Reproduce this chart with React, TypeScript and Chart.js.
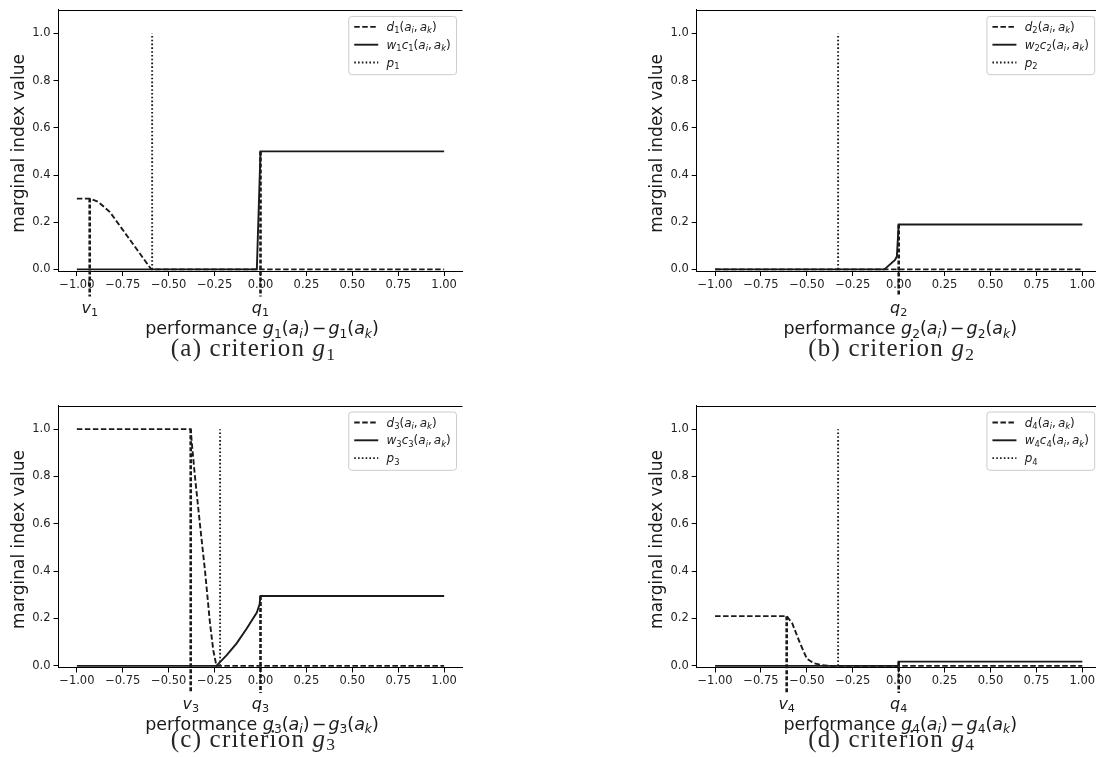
import React, { useEffect, useRef } from 'react';
import { Chart, registerables } from 'chart.js';

Chart.register(...registerables);

// ---------- data ----------
const X_TICKS = [-1, -0.75, -0.5, -0.25, 0, 0.25, 0.5, 0.75, 1];
const Y_TICKS = [0, 0.2, 0.4, 0.6, 0.8, 1.0];
const X_RANGE = [-1.1, 1.1];
const Y_RANGE = [-0.007, 1.1];

// criterion g1
const D1_X = [-1, -0.93, -0.884, -0.82, -0.595, 1];
const D1_Y = [0.3, 0.3, 0.286, 0.243, 0, 0];
const WC1_X = [-1, -0.02, 0, 1];
const WC1_Y = [0, 0, 0.5, 0.5];
// criterion g2
const D2_X = [-1, 1];
const D2_Y = [0, 0];
const WC2_X = [-1, -0.078, -0.02, -0.01, 0, 1];
const WC2_Y = [0, 0, 0.04, 0.055, 0.19, 0.19];
// criterion g3
const D3_X = [-1, -0.38, -0.375, -0.357, -0.33, -0.302, -0.275, -0.257, -0.24, 1];
const D3_Y = [1, 1, 0.95, 0.8, 0.6, 0.4, 0.18, 0.065, 0, 0];
const WC3_X = [-1, -0.24, -0.184, -0.13, -0.075, -0.02, -0.005, 0, 1];
const WC3_Y = [0, 0, 0.045, 0.095, 0.158, 0.225, 0.26, 0.295, 0.295];
// criterion g4
const D4_X = [-1, -0.61, -0.58, -0.537, -0.5, -0.465, -0.42, -0.38, 1];
const D4_Y = [0.21, 0.21, 0.18, 0.095, 0.03, 0.012, 0.003, 0, 0];
const WC4_X = [-1, 0, 0, 1];
const WC4_Y = [0, 0, 0.018, 0.018];

const D_X = [D1_X, D2_X, D3_X, D4_X];
const D_Y = [D1_Y, D2_Y, D3_Y, D4_Y];
const WC_X = [WC1_X, WC2_X, WC3_X, WC4_X];
const WC_Y = [WC1_Y, WC2_Y, WC3_Y, WC4_Y];

const P_VALUES = [-0.59, -0.33, -0.22, -0.33];
const P_TOP = 1.0;
const V_VALUES: (number | null)[] = [-0.93, null, -0.38, -0.61];
const V_TOPS: (number | null)[] = [0.3, null, 1.0, 0.21];
const Q_VALUES = [0, 0, 0, 0];
const Q_TOPS = [0.5, 0.19, 0.295, 0.018];
const MARK_BOTTOM = -0.115;
const CAPTION_LETTERS = ['a', 'b', 'c', 'd'];
const Y_TITLE = 'marginal index value';

// ---------- layout ----------
const PANELS = [
  { left: 0, top: 0, w: 472, h: 390, area: { l: 58.5, t: 9, r: 462.5, b: 271 }, markY: 313, xlabY: 334, capY: 356 },
  { left: 638, top: 0, w: 472, h: 390, area: { l: 58.7, t: 9, r: 462.7, b: 271 }, markY: 313, xlabY: 334, capY: 356 },
  { left: 0, top: 390, w: 472, h: 367, area: { l: 58.5, t: 15.5, r: 462.5, b: 277.5 }, markY: 318.5, xlabY: 339.5, capY: 356.5 },
  { left: 638, top: 390, w: 472, h: 367, area: { l: 58.7, t: 15.5, r: 462.7, b: 277.5 }, markY: 318.5, xlabY: 339.5, capY: 356.5 },
];

const SANS = '"DejaVu Sans"';
const SERIF = '"Liberation Serif"';
const INK = '#1a1a1a';
const LW = 1.9;
const DASH = [5.5, 2.5];
const DOT = [1.6, 2.2];
const MARK_DASH = [4, 2];
const MARK_W = 2.6;

type Seg = { t: string; it?: boolean; sub?: boolean; gap?: number };
type RichOpt = { size: number; fam: string; color?: string; align?: 'left' | 'center' | 'right'; ls?: number; subShift?: number };

function segFont(s: Seg, o: RichOpt) {
  const fs = s.sub ? o.size * 0.7 : o.size;
  return `${s.it ? 'italic ' : ''}${fs}px ${o.fam}`;
}

function layoutRich(ctx: CanvasRenderingContext2D, segs: Seg[], o: RichOpt) {
  let w = 0;
  const items: { s: Seg; x: number }[] = [];
  for (const s of segs) {
    ctx.font = segFont(s, o);
    (ctx as any).letterSpacing = '0px';
    w += (s.gap || 0) * o.size;
    items.push({ s, x: w });
    w += ctx.measureText(s.t).width + (o.ls || 0) * [...s.t].length;
  }
  return { w, items };
}

function drawRich(ctx: CanvasRenderingContext2D, segs: Seg[], x: number, y: number, o: RichOpt) {
  ctx.save();
  const { w, items } = layoutRich(ctx, segs, o);
  const x0 = o.align === 'center' ? x - w / 2 : o.align === 'right' ? x - w : x;
  ctx.fillStyle = o.color || INK;
  ctx.textAlign = 'left';
  ctx.textBaseline = 'alphabetic';
  for (const it of items) {
    ctx.font = segFont(it.s, o);
    (ctx as any).letterSpacing = (o.ls || 0) + 'px';
    ctx.fillText(it.s.t, x0 + it.x, y + (it.s.sub ? o.size * (o.subShift ?? 0.2) : 0));
  }
  ctx.restore();
  return w;
}

function pairSegs(): Seg[] {
  return [
    { t: '(' }, { t: 'a', it: true }, { t: 'i', it: true, sub: true }, { t: ',' },
    { t: 'a', it: true, gap: 0.17 }, { t: 'k', it: true, sub: true }, { t: ')' },
  ];
}

function fmtX(v: number) {
  const s = Math.abs(v).toFixed(2);
  return v < 0 ? '\u2212' + s : s;
}

function makePlugin(i: number) {
  const j = String(i + 1);
  const p = PANELS[i];
  return {
    id: 'panelText' + i,
    afterDraw(chart: any) {
      const { ctx, chartArea: a, scales } = chart;
      const xs = scales.x;
      // top spine
      ctx.save();
      ctx.strokeStyle = '#000';
      ctx.lineWidth = 1;
      ctx.beginPath();
      const ty = Math.round(a.top) + 0.5;
      ctx.moveTo(a.left, ty);
      ctx.lineTo(a.right, ty);
      ctx.stroke();
      ctx.restore();

      // legend
      const fs = 12;
      const rows: Seg[][] = [
        [{ t: 'd', it: true }, { t: j, sub: true }, ...pairSegs()],
        [{ t: 'w', it: true }, { t: j, sub: true }, { t: 'c', it: true }, { t: j, sub: true }, ...pairSegs()],
        [{ t: 'p', it: true }, { t: j, sub: true }],
      ];
      const dashes = [DASH, [], DOT];
      const tw = Math.max(...rows.map((r) => layoutRich(ctx, r, { size: fs, fam: SANS }).w));
      const bw = 38.3 + tw + 5.3;
      const bx1 = a.right - 6.5;
      const bx0 = bx1 - bw;
      const by0 = a.top + 6;
      const bh = 58.3;
      ctx.save();
      ctx.beginPath();
      (ctx as any).roundRect(bx0 + 0.5, by0 + 0.5, bw, bh, 3);
      ctx.fillStyle = 'rgba(255,255,255,0.8)';
      ctx.fill();
      ctx.strokeStyle = '#cccccc';
      ctx.lineWidth = 1;
      ctx.stroke();
      ctx.restore();
      rows.forEach((r, k) => {
        const cy = by0 + 11 + k * 17.8;
        ctx.save();
        ctx.strokeStyle = INK;
        ctx.lineWidth = LW;
        ctx.setLineDash(dashes[k]);
        ctx.beginPath();
        ctx.moveTo(bx0 + 6, cy);
        ctx.lineTo(bx0 + 30, cy);
        ctx.stroke();
        ctx.restore();
        drawRich(ctx, r, bx0 + 38.3, cy + 4, { size: fs, fam: SANS });
      });

      // marker labels
      const v = V_VALUES[i];
      if (v !== null) {
        drawRich(ctx, [{ t: 'v', it: true }, { t: j, sub: true }], xs.getPixelForValue(v), p.markY, { size: 16, fam: SANS, align: 'center' });
      }
      drawRich(ctx, [{ t: 'q', it: true }, { t: j, sub: true }], xs.getPixelForValue(Q_VALUES[i]), p.markY, { size: 16, fam: SANS, align: 'center' });

      // x label
      const cx = (a.left + a.right) / 2;
      drawRich(
        ctx,
        [
          { t: 'performance ' },
          { t: 'g', it: true }, { t: j, sub: true }, { t: '(' }, { t: 'a', it: true }, { t: 'i', it: true, sub: true }, { t: ')' },
          { t: '\u2212', gap: 0.12 },
          { t: 'g', it: true, gap: 0.12 }, { t: j, sub: true }, { t: '(' }, { t: 'a', it: true }, { t: 'k', it: true, sub: true }, { t: ')' },
        ],
        cx + 1.5, p.xlabY, { size: 17.5, fam: SANS, align: 'center' }
      );

      // y label
      ctx.save();
      ctx.translate(a.left - 39, (a.top + a.bottom) / 2 + 3);
      ctx.rotate(-Math.PI / 2);
      ctx.font = `17px ${SANS}`;
      ctx.fillStyle = INK;
      ctx.textAlign = 'center';
      ctx.textBaseline = 'middle';
      ctx.fillText(Y_TITLE, 0, 0);
      ctx.restore();

      // caption
      drawRich(
        ctx,
        [{ t: `(${CAPTION_LETTERS[i]}) criterion ` }, { t: 'g', it: true }, { t: j, sub: true }],
        cx - 7, p.capY, { size: 25, fam: SERIF, align: 'center', ls: 1.2, subShift: 0.15, color: '#262626' }
      );
    },
  };
}

function buildConfig(i: number): any {
  const p = PANELS[i];
  const pts = (xs: number[], ys: number[]) => xs.map((x, k) => ({ x, y: ys[k] }));
  const base = { borderColor: INK, pointRadius: 0, fill: false, tension: 0, borderCapStyle: 'butt' };
  const datasets: any[] = [
    { ...base, label: 'q', data: [{ x: Q_VALUES[i], y: Q_TOPS[i] }, { x: Q_VALUES[i], y: MARK_BOTTOM }], borderDash: MARK_DASH, borderWidth: MARK_W, clip: false },
  ];
  const v = V_VALUES[i];
  const vt = V_TOPS[i];
  if (v !== null && vt !== null) {
    datasets.push({ ...base, label: 'v', data: [{ x: v, y: vt }, { x: v, y: MARK_BOTTOM }], borderDash: MARK_DASH, borderWidth: MARK_W, clip: false });
  }
  datasets.push(
    { ...base, label: 'p', data: [{ x: P_VALUES[i], y: 0 }, { x: P_VALUES[i], y: P_TOP }], borderDash: DOT, borderWidth: LW },
    { ...base, label: 'wc', data: pts(WC_X[i], WC_Y[i]), borderWidth: LW },
    { ...base, label: 'd', data: pts(D_X[i], D_Y[i]), borderDash: DASH, borderWidth: LW }
  );
  const grid = { display: true, drawOnChartArea: false, drawTicks: true, tickLength: 5, tickWidth: 1, tickColor: '#000', color: '#000' };
  const border = { display: true, color: '#000', width: 1 };
  const tickFont = { family: 'DejaVu Sans', size: 11.5 };
  return {
    type: 'line',
    data: { datasets },
    plugins: [makePlugin(i)],
    options: {
      responsive: false,
      animation: false,
      devicePixelRatio: 1,
      events: [],
      layout: { padding: { left: 0, top: p.area.t, right: p.w - p.area.r, bottom: 0 } },
      plugins: { legend: { display: false }, tooltip: { enabled: false }, title: { display: false } },
      scales: {
        x: {
          type: 'linear',
          min: X_RANGE[0],
          max: X_RANGE[1],
          afterBuildTicks: (s: any) => { s.ticks = X_TICKS.map((value) => ({ value })); },
          afterFit: (s: any) => { s.height = p.h - p.area.b; },
          ticks: { autoSkip: false, maxRotation: 0, minRotation: 0, padding: 2, color: '#222', font: tickFont, callback: (val: any) => fmtX(Number(val)) },
          grid,
          border,
        },
        y: {
          type: 'linear',
          min: Y_RANGE[0],
          max: Y_RANGE[1],
          afterBuildTicks: (s: any) => { s.ticks = Y_TICKS.map((value) => ({ value })); },
          afterFit: (s: any) => { s.width = p.area.l; },
          ticks: { padding: 3, color: '#222', font: tickFont, callback: (val: any) => Number(val).toFixed(1) },
          grid,
          border,
        },
      },
    },
  };
}

function Panel({ idx }: { idx: number }) {
  const ref = useRef<HTMLCanvasElement>(null);
  useEffect(() => {
    const chart = new Chart(ref.current as HTMLCanvasElement, buildConfig(idx));
    return () => chart.destroy();
  }, [idx]);
  const p = PANELS[idx];
  return (
    <canvas
      ref={ref}
      width={p.w}
      height={p.h}
      style={{ position: 'absolute', left: p.left, top: p.top, width: p.w, height: p.h }}
    />
  );
}

export default function App() {
  return (
    <div style={{ position: 'absolute', left: 0, top: 0, width: 1096, height: 757, overflow: 'hidden', background: '#fff' }}>
      {[0, 1, 2, 3].map((i) => (
        <Panel key={i} idx={i} />
      ))}
    </div>
  );
}
